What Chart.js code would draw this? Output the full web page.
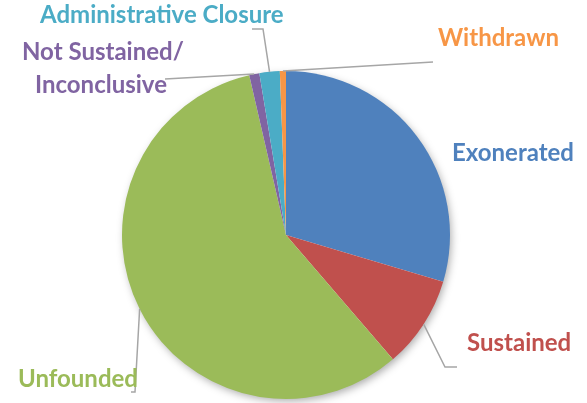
<!DOCTYPE html>
<html>
<head>
<meta charset="utf-8">
<script src="https://cdn.jsdelivr.net/npm/chart.js"></script>
<style>
    html, body { margin: 0; padding: 0; background: #fff; }
    #wrap { width: 587px; height: 403px; }
</style>
</head>
<body>
<div id="wrap"><canvas id="pieChart" width="587" height="403"></canvas></div>
<script>
// ---- data ----
const categories = ['Exonerated', 'Sustained', 'Unfounded', 'Not Sustained/\nInconclusive', 'Administrative Closure', 'Withdrawn'];
const shares = [29.6, 9.1, 57.7, 1.0, 2.0, 0.6];
const sliceColors = ['#4F81BD', '#C0504D', '#9BBB59', '#8064A2', '#4BACC6', '#F79646'];

// label text anchor (left x, baseline y) and leader line bend points, per slice
const labelSpots = [
    { x: 452, y: 161, line: [] },
    { x: 467, y: 351, line: [[445, 367], [457, 367]] },
    { x: 18, y: 387, line: [[135, 392], [131, 392]] },
    { x: 22, y: 60, line: [[165, 79]] },
    { x: 40, y: 23, line: [[263, 29], [252, 29]] },
    { x: 438, y: 46, line: [[433, 62]] }
];

const LABEL_FONT = 'bold 24px Lato';
const LINE_GAP = 33;

// white disc with soft shadow under the pie
const pieShadow = {
    id: 'pieShadow',
    beforeDatasetsDraw(chart) {
        const arc = chart.getDatasetMeta(0).data[0];
        if (!arc) return;
        const ctx = chart.ctx;
        ctx.save();
        ctx.shadowColor = 'rgba(0,0,0,0.35)';
        ctx.shadowBlur = 8;
        ctx.shadowOffsetX = 2;
        ctx.shadowOffsetY = 3;
        ctx.fillStyle = '#fff';
        ctx.beginPath();
        ctx.arc(arc.x, arc.y, arc.outerRadius - 1, 0, Math.PI * 2);
        ctx.fill();
        ctx.restore();
    }
};

// labels with leader lines
const sliceLabels = {
    id: 'sliceLabels',
    afterDatasetsDraw(chart) {
        const ctx = chart.ctx;
        const arcs = chart.getDatasetMeta(0).data;
        ctx.save();
        arcs.forEach((arc, i) => {
            const spot = labelSpots[i];
            if (spot.line.length) {
                const mid = (arc.startAngle + arc.endAngle) / 2;
                const sx = arc.x + Math.cos(mid) * arc.outerRadius;
                const sy = arc.y + Math.sin(mid) * arc.outerRadius;
                ctx.strokeStyle = '#A6A6A6';
                ctx.lineWidth = 1.5;
                ctx.beginPath();
                ctx.moveTo(sx, sy);
                spot.line.forEach(p => ctx.lineTo(p[0], p[1]));
                ctx.stroke();
            }
            ctx.fillStyle = sliceColors[i];
            ctx.font = LABEL_FONT;
            ctx.textBaseline = 'alphabetic';
            ctx.textAlign = 'left';
            categories[i].split('\n').forEach((line, k) => {
                const dx = k > 0 ? 13 : 0;
                ctx.fillText(line, spot.x + dx, spot.y + k * LINE_GAP);
            });
        });
        ctx.restore();
    }
};

new Chart(document.getElementById('pieChart'), {
    type: 'pie',
    data: {
        labels: categories,
        datasets: [{
            data: shares,
            backgroundColor: sliceColors,
            borderWidth: 0
        }]
    },
    options: {
        responsive: false,
        animation: false,
        layout: { padding: { top: 71, bottom: 4, left: 0, right: 15 } },
        plugins: {
            legend: { display: false },
            tooltip: { enabled: false }
        }
    },
    plugins: [pieShadow, sliceLabels]
});
</script>
</body>
</html>
